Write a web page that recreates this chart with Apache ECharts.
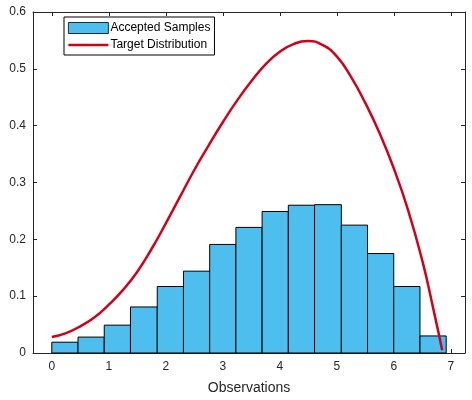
<!DOCTYPE html>
<html lang="en">
<head>
    <meta charset="UTF-8">
    <title>Accepted Samples</title>
    <script type="text/javascript" src="https://cdn.jsdelivr.net/npm/echarts@6/dist/echarts.min.js"></script>
    <style>
        html, body { margin: 0; padding: 0; background: #fff; }
    </style>
</head>
<body>
    <div id="main" style="width: 472px;height:400px;"></div>
    <script type="text/javascript">
        // histogram bin edges (15 bins) and normalized heights
        var binEdges = [0, 0.46, 0.92, 1.38, 1.85, 2.31, 2.77, 3.23, 3.69, 4.15, 4.61, 5.08, 5.54, 6.00, 6.46, 6.92];
        var binHeights = [0.019, 0.028, 0.049, 0.081, 0.117, 0.144, 0.191, 0.221, 0.249, 0.260, 0.261, 0.225, 0.175, 0.117, 0.030];

        // target distribution curve
        var curveX = [0, 0.25, 0.5, 0.75, 1, 1.25, 1.5, 1.75, 2, 2.25, 2.5, 2.75, 3, 3.25, 3.5, 3.75, 4, 4.25, 4.5, 4.75, 5, 5.25, 5.5, 5.75, 6, 6.25, 6.5, 6.7, 6.85];
        var curveY = [0.028, 0.035, 0.047, 0.063, 0.085, 0.111, 0.143, 0.183, 0.228, 0.275, 0.322, 0.365, 0.406, 0.444, 0.478, 0.508, 0.530, 0.544, 0.549, 0.542, 0.522, 0.486, 0.440, 0.387, 0.325, 0.252, 0.163, 0.075, 0.005];

        var xTicks = [0, 1, 2, 3, 4, 5, 6, 7];

        var bins = binHeights.map(function (h, i) {
            return [binEdges[i], binEdges[i + 1], h];
        });
        var curve = curveX.map(function (x, i) {
            return [x, curveY[i]];
        });

        var axisColor = '#262626';
        var barColor = '#4DBEEE';
        var lineColor = '#D0021B';
        var myChart = echarts.init(document.getElementById('main'));

        // boxed axis with inward ticks on all four sides
        function boxAxis(extra) {
            var base = {
                type: 'value',
                axisLine: { show: true, onZero: false, lineStyle: { color: axisColor, width: 1 } },
                axisTick: { show: true, inside: true, length: 4, lineStyle: { color: axisColor } },
                splitLine: { show: false }
            };
            return Object.assign(base, extra);
        }

        var option = {
            animation: false,
            textStyle: { fontFamily: 'Liberation Sans, Arial, sans-serif' },
            grid: { left: 33, top: 12, right: 7, bottom: 47 },
            legend: {
                orient: 'vertical',
                left: 64,
                top: 17,
                padding: [5, 4, 4, 4],
                itemWidth: 40,
                itemHeight: 11,
                itemGap: 5,
                borderColor: '#000',
                borderWidth: 1,
                backgroundColor: '#fff',
                textStyle: { fontSize: 12, color: '#000', padding: [0, 0, 0, -3] },
                data: [
                    {
                        name: 'Accepted Samples',
                        icon: 'rect',
                        itemStyle: { color: barColor, borderColor: '#000', borderWidth: 0.8 }
                    },
                    {
                        name: 'Target Distribution',
                        icon: 'path://M0,0L0.01,0L0.01,0.01Z M0,4.2L40,4.2L40,6.8L0,6.8Z M39.99,11L40,11L40,10.99Z',
                        itemStyle: { color: lineColor, borderWidth: 0 }
                    }
                ]
            },
            xAxis: [boxAxis({
                min: -0.33,
                max: 7.25,
                splitNumber: 7,
                name: 'Observations',
                nameLocation: 'middle',
                nameGap: 28,
                nameTextStyle: { fontSize: 14, color: axisColor },
                axisLabel: {
                    fontSize: 12, color: axisColor, margin: 8,
                    showMinLabel: false, showMaxLabel: false,
                    formatter: function (v) { return xTicks.indexOf(v) >= 0 ? String(v) : ''; }
                }
            }), boxAxis({
                position: 'top',
                min: -0.33,
                max: 7.25,
                splitNumber: 7,
                axisLabel: { show: false }
            })],
            yAxis: [boxAxis({
                min: 0,
                max: 0.6,
                interval: 0.1,
                axisLabel: { fontSize: 12, color: axisColor, margin: 7 }
            }), boxAxis({
                position: 'right',
                min: 0,
                max: 0.6,
                interval: 0.1,
                axisLabel: { show: false }
            })],
            series: [{
                name: 'Accepted Samples',
                type: 'custom',
                xAxisIndex: 0,
                yAxisIndex: 0,
                itemStyle: { color: barColor, borderColor: '#000', borderWidth: 1 },
                encode: { x: [0, 1], y: 2 },
                data: bins,
                renderItem: function (params, api) {
                    var p0 = api.coord([api.value(0), api.value(2)]);
                    var p1 = api.coord([api.value(1), 0]);
                    return {
                        type: 'rect',
                        shape: { x: p0[0], y: p0[1], width: p1[0] - p0[0], height: p1[1] - p0[1] },
                        style: { fill: barColor, stroke: '#000', lineWidth: 1 }
                    };
                }
            }, {
                name: 'Target Distribution',
                type: 'line',
                xAxisIndex: 0,
                yAxisIndex: 0,
                smooth: true,
                symbol: 'none',
                z: 3,
                lineStyle: { color: lineColor, width: 2.5 },
                itemStyle: { color: lineColor },
                data: curve
            }]
        };

        myChart.setOption(option);
    </script>
</body>
</html>
